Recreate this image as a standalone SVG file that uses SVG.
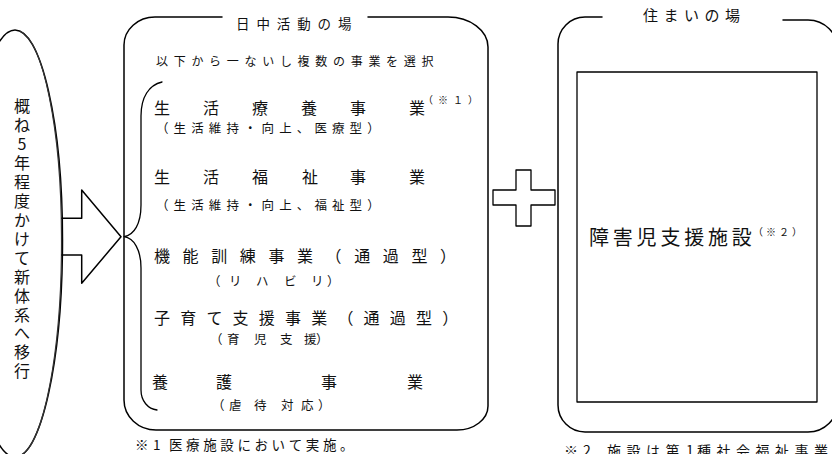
<svg xmlns="http://www.w3.org/2000/svg" width="832" height="454" viewBox="0 0 832 454">
<style>
.ln{fill:none;stroke:#000;stroke-width:1.5;stroke-linejoin:round;stroke-linecap:round}
.t{font-family:"Noto Sans CJK JP","Noto Sans",sans-serif;fill:#111}
.v{font-size:16px;text-anchor:middle}
.h1{font-size:13.5px}
.m{font-size:16px}
.s{font-size:12.5px}
.sup{font-size:10px}
.f{font-size:13.5px}
</style>
<rect width="832" height="454" fill="#fff"/>

<g id="transition-node">
<path class="ln" d="M-32.5,240 A47.5,210 0 0 1 62.5,240 A47.5,217 0 0 1 -32.5,240 Z"/>
<path class="ln" style="stroke-width:1.2;stroke:#333" d="M20,31 A46,208 0 0 1 61.5,236 A46,215 0 0 1 20,456"/>
<text class="t v"><tspan x="22" y="112.3">概</tspan><tspan x="22" y="131.2">ね</tspan><tspan x="22" y="150.2">5</tspan><tspan x="22" y="169.1">年</tspan><tspan x="22" y="188">程</tspan><tspan x="22" y="207">度</tspan><tspan x="22" y="225.9">か</tspan><tspan x="22" y="244.8">け</tspan><tspan x="22" y="263.7">て</tspan><tspan x="22" y="282.7">新</tspan><tspan x="22" y="301.6">体</tspan><tspan x="22" y="320.5">系</tspan><tspan x="22" y="339.4">へ</tspan><tspan x="22" y="358.4">移</tspan><tspan x="22" y="377.3">行</tspan></text>
</g>

<g id="connectors">
<path id="arrow" class="ln" d="M62,218.3 H81.7 V190 L121,236.7 L81.7,283.3 V255 H62"/>
</g>

<g id="day-activity-node">
<path class="ln" d="M222,17 H155 A31,28 0 0 0 124,45 V400 A32,30 0 0 0 156,430 H457 A31,24 0 0 0 488,406 V47 A40,30 0 0 0 448,17 H368"/>
<text class="t h1" x="236 256.4 276.8 297.2 317.6 338" y="28.9">日中活動の場</text>
<text class="t" style="font-size:12px;letter-spacing:5.7px" x="156" y="66.3">以下から一ないし複数の事業を選択</text>
<path class="ln" style="stroke-width:1.3" d="M162,82 C149,85 141,97 141,116 L141,205 C141,224 134,235 124,236.7 C134,238 141,250 141,268 L141,390 C141,401 148,409 157,410"/>
<text class="t m" x="154 203 252 301 350 409" y="114.3">生活療養事業</text>
<text class="t sup" style="letter-spacing:5px" x="423" y="103.6">（※１）</text>
<text class="t s" style="letter-spacing:5.1px" x="156" y="133">（生活維持・向上、医療型）</text>
<text class="t m" x="154 203 252 302 350 409" y="182.8">生活福祉事業</text>
<text class="t s" style="letter-spacing:5.1px" x="156" y="209.5">（生活維持・向上、福祉型）</text>
<text class="t m" x="154 182.6 211.2 239.8 268.4 297 325.6 354.2 382.8 411.4 440" y="261.8">機能訓練事業（通過型）</text>
<text class="t s" x="208 229 256 284 311 327" y="286.3">（リハビリ）</text>
<text class="t m" x="154 180.2 206.4 232.6 258.8 285 311.2 337.4 363.6 389.8 416 442.2" y="323.8">子育て支援事業（通過型）</text>
<text class="t s" x="210 227 254 280 304 316" y="344.3">（育児支援）</text>
<text class="t m" x="152 216 321 407" y="387.8">養護事業</text>
<text class="t s" x="212 229 254 281 301 318" y="410.3">（虐待対応）</text>
</g>

<g id="plus">
<path class="ln" style="stroke-width:1.3" d="M516,170 H531 V190 H555 V205 H531 V226 H516 V205 H493 V190 H516 Z"/>
</g>

<g id="residence-node">
<path class="ln" d="M783,20 H808 A30,30 0 0 1 838,50 V402 A30,30 0 0 1 808,432 H585 A27,27 0 0 1 558,405 V44 A27,27 0 0 1 585,17 H602"/>
<text class="t" style="font-size:15px" x="643 663.5 684 704.5 725" y="20.9">住まいの場</text>
<rect class="ln" style="stroke-width:1.3" x="577" y="72" width="240" height="330"/>
<text class="t" style="font-size:20px" x="589 612.8 636.6 660.4 684.2 708 731.8" y="245.2">障害児支援施設</text>
<text class="t sup" style="letter-spacing:3px" x="753" y="235.6">（※２）</text>
</g>

<g id="notes">
<text class="t f" x="135 153 169 186.1 203.2 220.3 237.4 254.5 271.6 288.7 305.8 322.9 340" y="450">※1医療施設において実施。</text>
<text class="t" style="font-size:14px" x="564 583 607 626.5 646 665.5 686 697 716.5 736 755.5 775 794.5 814" y="456">※2施設は第1種社会福祉事業</text>
</g>
</svg>
